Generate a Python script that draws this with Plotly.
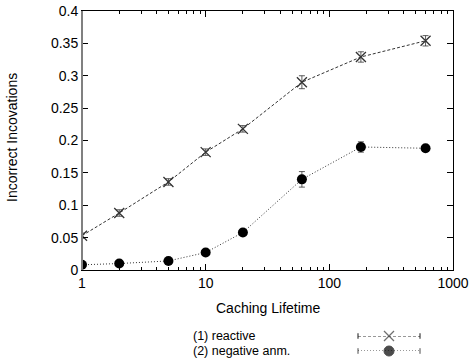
import plotly.graph_objects as go

# Caching lifetime values (x) and fraction of incorrect invocations (y)
lifetimes = [1, 2, 5, 10, 20, 60, 180, 600]
reactive = [0.053, 0.088, 0.136, 0.182, 0.218, 0.290, 0.329, 0.354]
reactive_err = [0.004, 0.005, 0.005, 0.005, 0.005, 0.010, 0.008, 0.008]
negative = [0.008, 0.010, 0.014, 0.027, 0.058, 0.140, 0.190, 0.188]
negative_err = [0.002, 0.002, 0.002, 0.003, 0.004, 0.012, 0.008, 0.004]

series_names = ["(1) reactive", "(2) negative anm."]
x_ticks = [1, 10, 100, 1000]
y_ticks = [0, 0.05, 0.1, 0.15, 0.2, 0.25, 0.3, 0.35, 0.4]

FONT = "Liberation Sans, Arial, Helvetica, sans-serif"
INK = "#333333"
DASH = "3px,2px"
DOT = "1px,2px"

W, H = 473, 362
# plot box in pixels: left, right, top, bottom
PL, PR, PT, PB = 82, 453, 11, 270
# legend rows (pixel centres) and key span
ROWS = [336, 351]
KEY_L, KEY_R = 358, 420

fig = go.Figure()

fig.add_trace(go.Scatter(
    x=lifetimes, y=reactive, mode="lines+markers", name=series_names[0],
    line=dict(color=INK, width=1, dash=DASH),
    marker=dict(symbol="x-thin-open", size=10, line=dict(color="black", width=1.3)),
    error_y=dict(type="data", array=reactive_err, color=INK, thickness=0.8, width=3),
    showlegend=False,
))
fig.add_trace(go.Scatter(
    x=lifetimes, y=negative, mode="lines+markers", name=series_names[1],
    line=dict(color=INK, width=1, dash=DOT),
    marker=dict(symbol="circle", size=10, color="black"),
    error_y=dict(type="data", array=negative_err, color=INK, thickness=0.8, width=3),
    showlegend=False,
))

# Legend keys drawn on a small overlay axis below the plot
key_x = [0, 0.5, 1]
key_rows = [1, 0]
fig.add_trace(go.Scatter(
    x=key_x, y=[key_rows[0]] * 3, xaxis="x2", yaxis="y2", mode="lines+markers",
    line=dict(color=INK, width=1, dash=DASH),
    marker=dict(symbol=["line-ns", "x-thin-open", "line-ns"], size=[4, 10, 4],
                line=dict(color="black", width=1.3)),
    showlegend=False, hoverinfo="skip", cliponaxis=False,
))
fig.add_trace(go.Scatter(
    x=key_x, y=[key_rows[1]] * 3, xaxis="x2", yaxis="y2", mode="lines+markers",
    line=dict(color=INK, width=1, dash=DOT),
    marker=dict(symbol=["line-ns", "circle", "line-ns"], size=[4, 10, 4], color="black",
                line=dict(color="black", width=1)),
    showlegend=False, hoverinfo="skip", cliponaxis=False,
))

fig.update_layout(
    width=W, height=H,
    margin=dict(l=0, r=0, t=0, b=0),
    paper_bgcolor="white", plot_bgcolor="white",
    font=dict(family=FONT, size=14, color="black"),
    xaxis=dict(
        type="log", range=[0, 3], domain=[PL / W, PR / W], anchor="y",
        tickvals=x_ticks, ticktext=[str(v) for v in x_ticks],
        ticks="inside", ticklen=6, tickcolor="black", showgrid=False, zeroline=False,
        showline=True, linecolor="black", linewidth=1, mirror="ticks",
        minor=dict(ticks="inside", ticklen=3, tickcolor="black", dtick="D1", showgrid=False),
        tickfont=dict(size=14), automargin=False,
    ),
    yaxis=dict(
        range=[0, 0.4], domain=[(H - PB) / H, (H - PT) / H], anchor="x",
        tickvals=y_ticks, ticktext=[f"{v:g}" for v in y_ticks],
        ticks="inside", ticklen=6, tickcolor="black", showgrid=False, zeroline=False,
        showline=True, linecolor="black", linewidth=1, mirror="ticks",
        tickfont=dict(size=14), automargin=False,
    ),
    xaxis2=dict(domain=[KEY_L / W, KEY_R / W], range=[0, 1], visible=False, anchor="y2"),
    yaxis2=dict(domain=[(H - ROWS[1]) / H, (H - ROWS[0]) / H], range=[0, 1],
                visible=False, anchor="x2"),
)

# grey left border of the plot box
fig.add_shape(type="line", xref="x domain", yref="y domain", x0=0, x1=0, y0=0, y1=1,
              line=dict(color="#808080", width=2))

# axis titles
fig.add_annotation(text="Caching Lifetime", xref="paper", yref="paper",
                   x=(PL + PR) / 2 / W, y=(H - 308) / H, xanchor="center", yanchor="middle",
                   showarrow=False, font=dict(size=14, family=FONT))
fig.add_annotation(text="Incorrect Incovations", xref="paper", yref="paper",
                   x=12 / W, y=(H - 138) / H, xanchor="center", yanchor="middle",
                   textangle=-90, showarrow=False, font=dict(size=14, family=FONT))

# legend labels
for i, name in enumerate(series_names):
    fig.add_annotation(
        text=name, xref="paper", yref="paper", xanchor="left", yanchor="middle",
        x=192 / W, y=(H - ROWS[i]) / H, borderpad=0,
        showarrow=False, font=dict(size=12.5, family=FONT),
    )

fig.write_html("out.html")
